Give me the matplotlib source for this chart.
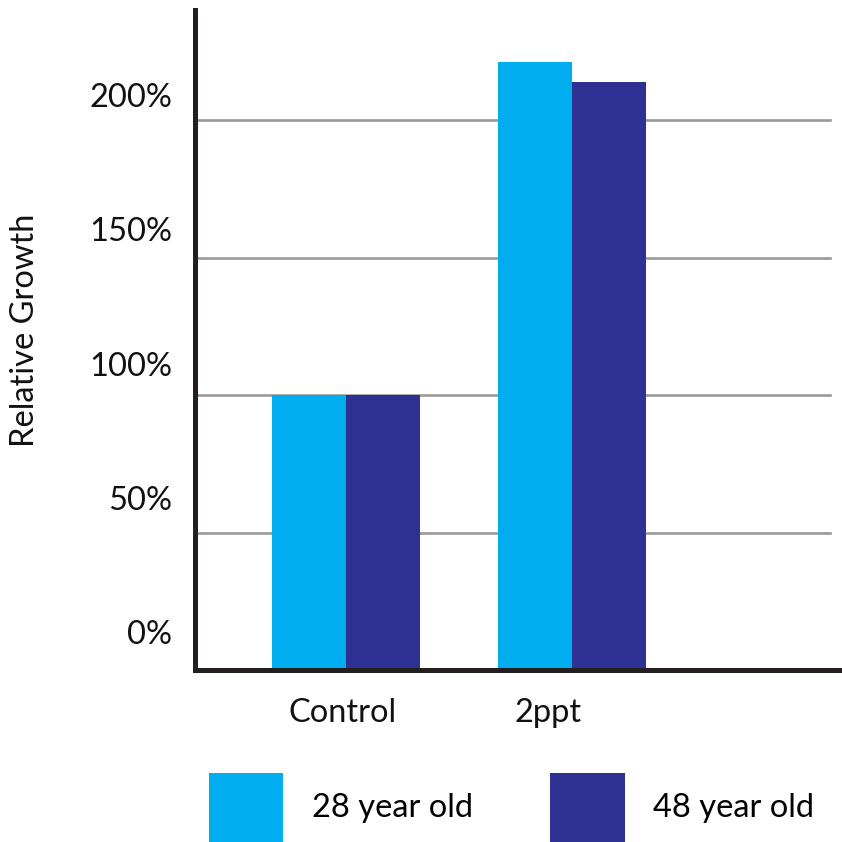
import numpy as np
import matplotlib
matplotlib.use("Agg")
import matplotlib.pyplot as plt
import matplotlib.transforms as mtransforms

# data
groups = ["Control", "2ppt"]
young = [100, 221]   # 28 year old
old = [100, 214]     # 48 year old
series_names = ["28 year old", "48 year old"]
yticks = [0, 50, 100, 150, 200]
ytick_labels = ["0%", "50%", "100%", "150%", "200%"]

light_blue = "#00AEEF"
dark_blue = "#2E3192"
fs = 23.5

plt.rcParams['font.family'] = ['Lato', 'DejaVu Sans']

fig = plt.figure(figsize=(8.42, 8.42), dpi=100)
W = H = 842.0
left, right, top, bottom = 194.5, 840, 10, 670
ax = fig.add_axes([left / W, 1 - bottom / H, (right - left) / W, (bottom - top) / H])

x = np.arange(len(groups))
w = 0.327
ax.bar(x - w / 2, young, width=w, color=light_blue, label=series_names[0], zorder=3)
ax.bar(x + w / 2, old, width=w, color=dark_blue, label=series_names[1], zorder=3)

ax.set_xlim(-0.670, 2.186)
ax.set_ylim(0, 240)

# grid, stops a little short of the axis end
for v in yticks[1:]:
    ax.axhline(v, xmax=0.985, color="#9a9a9a", lw=1.9, zorder=1)

for s in ["top", "right"]:
    ax.spines[s].set_visible(False)
for s in ["left", "bottom"]:
    ax.spines[s].set_linewidth(3.6)
    ax.spines[s].set_color("#231F20")
    ax.spines[s].set_zorder(4)

ax.set_yticks(yticks)
ax.set_yticklabels(ytick_labels, fontsize=fs, color="#111111")
ax.tick_params(axis="y", length=0, pad=16)
# the labels sit above their gridlines in the original, more so lower down
for lab, up in zip(ax.get_yticklabels(), np.linspace(38, 25, len(yticks))):
    shift = mtransforms.ScaledTranslation(0, up / 100, fig.dpi_scale_trans)
    lab.set_transform(lab.get_transform() + shift)

# x labels are left aligned a bit inside the first bar
ax.set_xticks(x - w + 0.075)
ax.set_xticklabels(groups, fontsize=fs, color="#111111", ha="left")
ax.tick_params(axis="x", length=0, pad=20)

fig.text(25 / W, 1 - 330 / H, "Relative Growth", rotation=90, fontsize=fs,
         color="#111111", ha="center", va="center")

fig.legend(loc="upper left", bbox_to_anchor=(209 / W, 1 - 773 / H), ncol=2,
           frameon=False, fontsize=fs, handlelength=2.27, handleheight=2.9,
           handletextpad=0.88, columnspacing=2.38, borderpad=0, borderaxespad=0)

fig.savefig("out.png", dpi=100)
